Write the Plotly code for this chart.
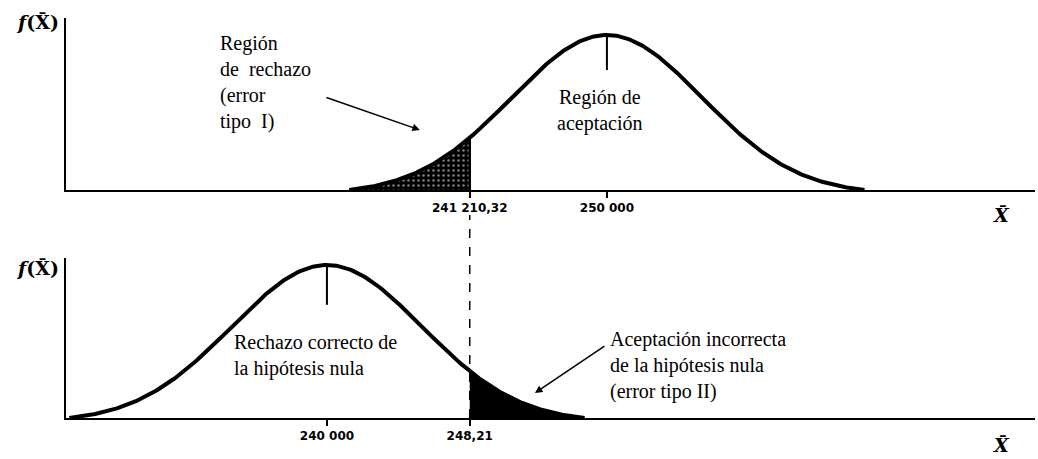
import numpy as np
import plotly.graph_objects as go

# Sampling distributions of the mean under H0 (top) and H1 (bottom)
mu_h0 = 250.0          # mean under the null hypothesis
mu_h1 = 240.0          # mean under the alternative
critical = 245.1       # critical value separating the regions
sigma = 3.4            # standard error of the mean
half_span = 9.2        # extent of each drawn curve around its mean

top_tick_vals = [critical, mu_h0]
top_tick_text = ["241 210,32", "250 000"]
bottom_tick_vals = [mu_h1, critical]
bottom_tick_text = ["240 000", "248,21"]

x_range = [230.68, 265.29]
serif = "Liberation Serif, Times New Roman, serif"


def density(mu, lo, hi, n=300):
    """Bell curve scaled to peak 1 and brought down to 0 at the drawn ends."""
    x = np.linspace(lo, hi, n)
    g = np.exp(-0.5 * ((x - mu) / sigma) ** 2)
    g_end = np.exp(-0.5 * (half_span / sigma) ** 2)
    return x, (g - g_end) / (1 - g_end)


def density_at(mu, x):
    return float(density(mu, x, x, 1)[1][0])


fig = go.Figure()

# ---- top panel: H0 ----
x0, y0 = density(mu_h0, mu_h0 - half_span, mu_h0 + half_span)
xr, yr = density(mu_h0, mu_h0 - half_span, critical, 120)
fig.add_trace(go.Scatter(
    x=np.concatenate([xr, [critical, xr[0]]]),
    y=np.concatenate([yr, [0, 0]]),
    fill="toself", mode="lines", line=dict(color="black", width=1),
    fillcolor="black",
    fillpattern=dict(shape=".", bgcolor="black", fgcolor="white",
                     size=5, solidity=0.2, fillmode="overlay"),
    xaxis="x", yaxis="y", hoverinfo="skip"))
fig.add_trace(go.Scatter(x=x0, y=y0, mode="lines",
                         line=dict(color="black", width=4),
                         xaxis="x", yaxis="y", hoverinfo="skip"))
fig.add_trace(go.Scatter(x=[critical, critical],
                         y=[0, density_at(mu_h0, critical)],
                         mode="lines", line=dict(color="black", width=2.5),
                         xaxis="x", yaxis="y", hoverinfo="skip"))
fig.add_trace(go.Scatter(x=[mu_h0, mu_h0], y=[1, 0.774], mode="lines",
                         line=dict(color="black", width=2),
                         xaxis="x", yaxis="y", hoverinfo="skip"))

# ---- bottom panel: H1 ----
x1, y1 = density(mu_h1, mu_h1 - half_span, mu_h1 + half_span)
xa, ya = density(mu_h1, critical, mu_h1 + half_span, 120)
fig.add_trace(go.Scatter(
    x=np.concatenate([xa, [xa[-1], critical]]),
    y=np.concatenate([ya, [0, 0]]),
    fill="toself", mode="lines", line=dict(color="black", width=1),
    fillcolor="black", xaxis="x2", yaxis="y2", hoverinfo="skip"))
fig.add_trace(go.Scatter(x=x1, y=y1, mode="lines",
                         line=dict(color="black", width=4),
                         xaxis="x2", yaxis="y2", hoverinfo="skip"))
fig.add_trace(go.Scatter(x=[mu_h1, mu_h1], y=[1, 0.74], mode="lines",
                         line=dict(color="black", width=2),
                         xaxis="x2", yaxis="y2", hoverinfo="skip"))

# dashed line joining the critical value in both panels
fig.add_shape(type="line", xref="x2", yref="paper",
              x0=critical, x1=critical, y0=0, y1=0.5075,
              line=dict(color="black", width=1.5, dash="dash"))

axis_common = dict(showgrid=False, zeroline=False, showline=True,
                   linecolor="black", linewidth=2, range=x_range,
                   ticks="outside", ticklen=6, tickwidth=2, tickcolor="black",
                   tickfont=dict(family="DejaVu Sans", size=12, color="black"))
yaxis_common = dict(showgrid=False, zeroline=False, showline=True,
                    linecolor="black", linewidth=2, showticklabels=False,
                    ticks="")

txt = dict(family=serif, size=20, color="black")
annotations = [
    dict(text="Región<br>de  rechazo<br>(error<br>tipo  I)", xref="x", yref="y",
         x=236.11, y=0.697, xanchor="left", yanchor="middle", align="left",
         showarrow=False, font=txt),
    dict(text="Región de<br>aceptación", xref="x", yref="y",
         x=249.75, y=0.516, xanchor="center", yanchor="middle", align="center",
         showarrow=False, font=txt),
    dict(text="Rechazo correcto de<br>la hipótesis nula", xref="x2", yref="y2",
         x=236.61, y=0.41, xanchor="left", yanchor="middle", align="left",
         showarrow=False, font=txt),
    dict(text="Aceptación incorrecta<br>de la hipótesis nula<br>(error tipo II)",
         xref="x2", yref="y2", x=250.04, y=0.34, xanchor="left", yanchor="middle",
         align="left", showarrow=False, font=txt),
    # arrows
    dict(text="", xref="x", yref="y", x=243.32, y=0.387, ax=-95, ay=-33,
         showarrow=True, arrowhead=2, arrowsize=1, arrowwidth=1.5,
         arrowcolor="black"),
    dict(text="", xref="x2", yref="y2", x=247.43, y=0.163, ax=71, ay=-48,
         showarrow=True, arrowhead=2, arrowsize=1, arrowwidth=1.5,
         arrowcolor="black"),
    # axis titles
    dict(text="<b><i>f</i>(X̄)</b>", xref="paper", yref="paper", x=0, y=0.99,
         xanchor="right", yanchor="middle", xshift=-5, showarrow=False,
         font=dict(family="DejaVu Serif", size=19, color="black")),
    dict(text="<b><i>f</i>(X̄)</b>", xref="paper", yref="paper", x=0, y=0.375,
         xanchor="right", yanchor="middle", xshift=-5, showarrow=False,
         font=dict(family="DejaVu Serif", size=19, color="black")),
    dict(text="<b><i>X̄</i></b>", xref="paper", yref="paper", x=0.965, y=0.5075,
         xanchor="center", yanchor="middle", showarrow=False,
         font=dict(family="DejaVu Serif", size=19, color="black")),
    dict(text="<b><i>X̄</i></b>", xref="paper", yref="paper", x=0.965, y=-0.068,
         xanchor="center", yanchor="middle", showarrow=False,
         font=dict(family="DejaVu Serif", size=19, color="black")),
]

fig.update_layout(
    width=1038, height=459,
    margin=dict(l=66, r=3, t=18, b=41),
    paper_bgcolor="white", plot_bgcolor="white",
    showlegend=False,
    xaxis=dict(axis_common, domain=[0, 1], anchor="y",
               tickvals=top_tick_vals,
               ticktext=[f"<b>{t}</b>" for t in top_tick_text]),
    yaxis=dict(yaxis_common, domain=[0.57, 1], anchor="x", range=[0, 1.11]),
    xaxis2=dict(axis_common, domain=[0, 1], anchor="y2",
                tickvals=bottom_tick_vals,
                ticktext=[f"<b>{t}</b>" for t in bottom_tick_text]),
    yaxis2=dict(yaxis_common, domain=[0, 0.4], anchor="x2", range=[0, 1.046]),
    annotations=annotations,
)

fig.write_html("out.html")
